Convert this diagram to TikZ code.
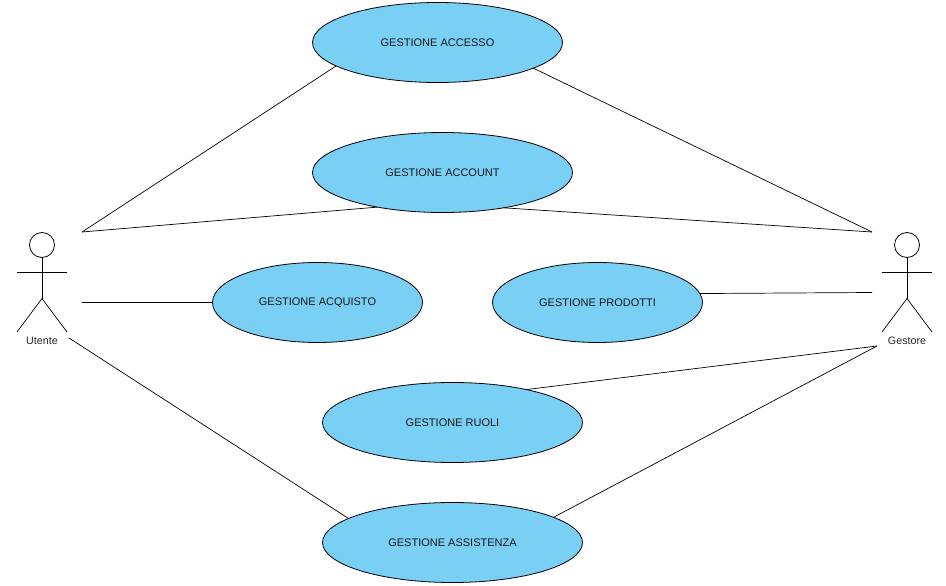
\documentclass[tikz,border=0pt]{standalone}
\usepackage{fontspec}
\setmainfont{Liberation Sans}
\usetikzlibrary{shapes.geometric}
\definecolor{ucfill}{HTML}{7ACFF5}
\tikzset{
  x=1pt,y=-1pt,
  line/.style={draw=black,line width=0.7pt},
  usecase/.style={ellipse,draw=black,line width=0.8pt,fill=ucfill,inner sep=0pt,outer sep=0pt,font=\fontsize{11}{12}\selectfont,text=black!90},
  head/.style={circle,draw=black,line width=0.8pt,minimum size=25pt,inner sep=0pt,outer sep=0pt},
  actorlabel/.style={font=\fontsize{10.7}{12}\selectfont,text=black!85,inner sep=0pt},
}
\begin{document}
\begin{tikzpicture}
\useasboundingbox (0,0) rectangle (946,586);
% free ends of connectors
\coordinate (uTop) at (82,232);
\coordinate (uMid) at (82,302.5);
\coordinate (uLow) at (69,338);
\coordinate (gTop) at (872,232);
\coordinate (gMid) at (872,292.5);
\coordinate (gLow) at (877,346);
% use cases
\node[usecase,minimum width=250pt,minimum height=80pt] (accesso) at (437.5,42.5) {GESTIONE ACCESSO};
\node[usecase,minimum width=260pt,minimum height=80pt] (account) at (442.5,172.5) {GESTIONE ACCOUNT};
\node[usecase,minimum width=210pt,minimum height=80pt] (acquisto) at (317.5,302.5) {GESTIONE ACQUISTO};
\node[usecase,minimum width=210pt,minimum height=80pt] (prodotti) at (597.5,302.5) {GESTIONE PRODOTTI};
\node[usecase,minimum width=260pt,minimum height=80pt] (ruoli) at (452.5,422.5) {GESTIONE RUOLI};
\node[usecase,minimum width=260pt,minimum height=80pt] (assistenza) at (452.5,542.5) {GESTIONE ASSISTENZA};
% connectors
\draw[line] (uTop) -- (accesso.193.7);
\draw[line] (accesso.-15.5) -- (gTop);
\draw[line] (uTop) -- (account.208.5);
\draw[line] (account.-30) -- (gTop);
\draw[line] (uMid) -- (acquisto.west);
\draw[line] (prodotti.5.7) -- (gMid);
\draw[line] (ruoli.24.5) -- (gLow);
\draw[line] (uLow) -- (assistenza.167.8);
\draw[line] (assistenza.14.2) -- (gLow);
% actor Utente
\node[head] (uHead) at (42,245) {};
\coordinate (uHip) at (42,298.5);
\draw[line] (uHead.south) -- (uHip);
\draw[line] (17,272) -- (67,272);
\draw[line] (17,332) -- (uHip) -- (67,332);
\node[actorlabel] (uLabel) at (42,340.5) {Utente};
% actor Gestore
\node[head] (gHead) at (907,245) {};
\coordinate (gHip) at (907,298.5);
\draw[line] (gHead.south) -- (gHip);
\draw[line] (882,272) -- (932,272);
\draw[line] (882,332) -- (gHip) -- (932,332);
\node[actorlabel] (gLabel) at (907,340.5) {Gestore};
\end{tikzpicture}
\end{document}
